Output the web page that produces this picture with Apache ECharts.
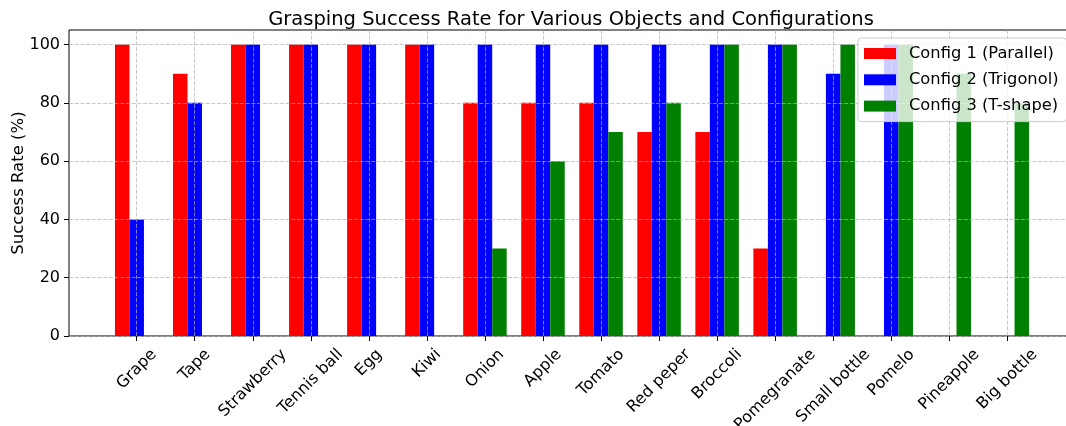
<!DOCTYPE html>
<html><head><meta charset="utf-8">
<script src="https://cdn.jsdelivr.net/npm/echarts@6/dist/echarts.min.js"></script>
<style>html,body{margin:0;padding:0;background:#fff}#c{width:1066px;height:426px}</style>
</head><body><div id="c"></div>
<script>
const categories = ['Grape','Tape','Strawberry','Tennis ball','Egg','Kiwi','Onion','Apple','Tomato','Red peper','Broccoli','Pomegranate','Small bottle','Pomelo','Pineapple','Big bottle'];
const config1 = [100,90,100,100,100,100,80,80,80,70,70,30,0,0,0,0];
const config2 = [40,80,100,100,100,100,100,100,100,100,100,100,90,100,0,0];
const config3 = [0,0,0,0,0,0,30,60,70,80,100,100,100,100,90,80];
const seriesNames = ['Config 1 (Parallel)','Config 2 (Trigonol)','Config 3 (T-shape)'];
const yTicks = [0,20,40,60,80,100];
const titleText = 'Grasping Success Rate for Various Objects and Configurations';
const yLabel = 'Success Rate (%)';

const FONT = '"DejaVu Sans", sans-serif';
const colors = ['#ff0000','#0000ff','#008000'];
const gridColor = 'rgba(176,176,176,0.7)';
const dash = [4, 1.7];

// rotated tick labels centred like matplotlib (bbox centred under the tick)
const mctx = document.createElement('canvas').getContext('2d');
mctx.font = '16px "DejaVu Sans"';
const LH = 19, MARGIN = 8, TOP_GAP = 9.3;
const rich = {};
categories.forEach((c, i) => {
  const w = mctx.measureText(c).width;
  const P = (w + LH) / 2 + (TOP_GAP - MARGIN) * Math.SQRT2;
  rich['l' + i] = {padding: [P, P, 0, 0], fontSize: 16, fontFamily: FONT, color: '#000', lineHeight: LH};
});

const chart = echarts.init(document.getElementById('c'), null, {renderer: 'canvas'});
chart.setOption({
  animation: false,
  backgroundColor: '#fff',
  title: {text: titleText, left: 566, top: 5, textAlign: 'center',
    textStyle: {fontSize: 19.5, fontWeight: 'normal', color: '#000', fontFamily: FONT}},
  legend: {data: seriesNames, orient: 'vertical', left: 858, top: 38, itemWidth: 32, itemHeight: 11,
    itemGap: 10.3, padding: [7.5, 8, 7.5, 6], icon: 'rect', selectedMode: false,
    backgroundColor: 'rgba(255,255,255,0.8)', borderColor: '#cccccc', borderWidth: 1, borderRadius: 3,
    textStyle: {fontSize: 16.3, fontFamily: FONT, color: '#000', lineHeight: 16, padding: [0, 0, 0, 8]}},
  grid: [
    {left: 69, top: 30, width: 1007, height: 306, show: true, borderColor: '#000', borderWidth: 1,
     backgroundColor: 'transparent', containLabel: false, outerBoundsMode: 'none'},
    {left: 136.7, top: 30, width: 870.6, height: 306, containLabel: false, outerBoundsMode: 'none'}
  ],
  xAxis: [
    {gridIndex: 0, type: 'value', min: 0, max: 1, show: false},
    {gridIndex: 1, type: 'category', data: categories, boundaryGap: false, z: 3,
     axisLine: {show: false},
     axisTick: {show: true, length: 5, interval: 0, lineStyle: {color: '#000', width: 1}},
     axisLabel: {interval: 0, rotate: 45, align: 'center', verticalAlign: 'middle', margin: MARGIN,
       formatter: (v, i) => '{l' + i + '|' + v + '}', rich: rich},
     splitLine: {show: true, interval: 0, lineStyle: {color: gridColor, type: dash, width: 1}}}
  ],
  yAxis: [
    {gridIndex: 0, type: 'value', min: 0, max: 105, interval: 20, z: 3,
     axisLine: {show: false},
     axisTick: {show: true, length: 5, lineStyle: {color: '#000', width: 1}, customValues: yTicks},
     axisLabel: {fontSize: 16, color: '#000', margin: 9, fontFamily: FONT, customValues: yTicks},
     splitLine: {show: true, lineStyle: {color: gridColor, type: dash, width: 1}},
     name: yLabel, nameLocation: 'middle', nameRotate: 90, nameGap: 42, nameMoveOverlap: false,
     nameTextStyle: {fontSize: 16.5, color: '#000', fontFamily: FONT}},
    {gridIndex: 1, type: 'value', min: 0, max: 105, show: false}
  ],
  series: [config1, config2, config3].map((d, i) => ({
    name: seriesNames[i], type: 'bar', xAxisIndex: 1, yAxisIndex: 1, data: d,
    barWidth: 14.5, barGap: '0%', clip: false, z: 2,
    itemStyle: {color: colors[i]}
  }))
});
</script></body></html>
